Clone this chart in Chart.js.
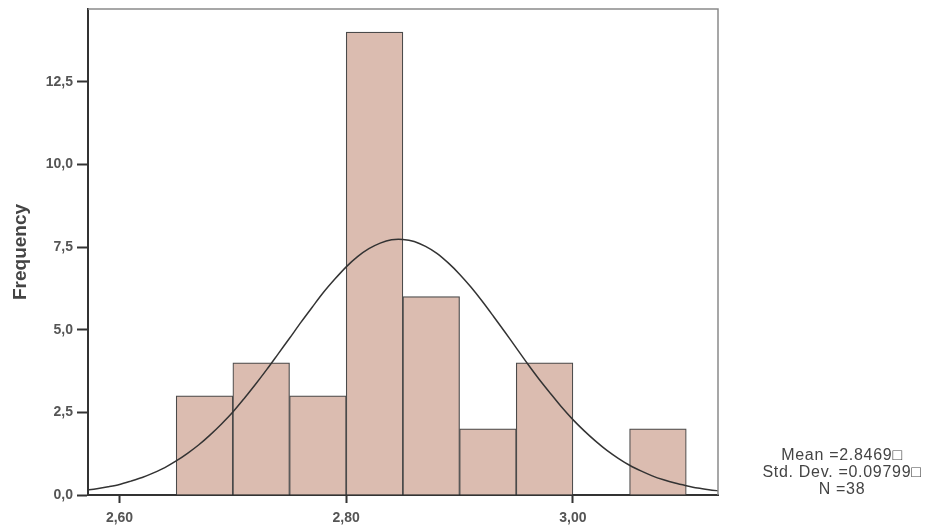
<!DOCTYPE html>
<html>
<head>
<meta charset="utf-8">
<script src="https://cdn.jsdelivr.net/npm/chart.js@4/dist/chart.umd.min.js"></script>
<style>
  html, body { margin: 0; padding: 0; background: #fff; }
  #wrap { position: relative; width: 941px; height: 530px; }
  #stats {
    position: absolute; left: 742px; top: 446px; width: 200px;
    text-align: center; font-family: "Liberation Sans", Arial, sans-serif;
    font-size: 16px; line-height: 17px; letter-spacing: 0.7px; color: #444;
  }
</style>
</head>
<body>
<div id="wrap">
  <canvas id="histChart" width="941" height="530"></canvas>
  <div id="stats">Mean =2.8469□<br>Std. Dev. =0.09799□<br>N =38</div>
</div>
<script>
// bins (centre of each 0.05 wide bin) and counts
const binCentres = [2.675, 2.725, 2.775, 2.825, 2.875, 2.925, 2.975, 3.025, 3.075];
const counts = [3, 4, 3, 14, 6, 2, 4, 0, 2];

// normal curve
const curveX = [2.57, 2.58, 2.59, 2.60, 2.61, 2.62, 2.63, 2.64, 2.65, 2.66, 2.67, 2.68, 2.69,
  2.70, 2.71, 2.72, 2.73, 2.74, 2.75, 2.76, 2.77, 2.78, 2.79, 2.80, 2.81, 2.82, 2.83, 2.84,
  2.85, 2.86, 2.87, 2.88, 2.89, 2.90, 2.91, 2.92, 2.93, 2.94, 2.95, 2.96, 2.97, 2.98, 2.99,
  3.00, 3.01, 3.02, 3.03, 3.04, 3.05, 3.06, 3.07, 3.08, 3.09, 3.10, 3.11, 3.12, 3.13];
const curveY = [0.14, 0.19, 0.25, 0.32, 0.42, 0.53, 0.67, 0.83, 1.03, 1.26, 1.52, 1.82, 2.15,
  2.51, 2.92, 3.35, 3.80, 4.27, 4.74, 5.22, 5.68, 6.13, 6.53, 6.90, 7.21, 7.45, 7.62, 7.72,
  7.73, 7.67, 7.52, 7.31, 7.02, 6.68, 6.29, 5.86, 5.40, 4.93, 4.45, 3.97, 3.51, 3.08, 2.66,
  2.28, 1.94, 1.63, 1.35, 1.11, 0.90, 0.73, 0.58, 0.46, 0.36, 0.28, 0.21, 0.16, 0.12];

// tick labels
const xTickValues = [2.60, 2.80, 3.00];
const xTickLabels = ["2,60", "2,80", "3,00"];
const yTickValues = [0, 2.5, 5, 7.5, 10, 12.5];
const yTickLabels = ["0,0", "2,5", "5,0", "7,5", "10,0", "12,5"];

const tickFont = { family: "Liberation Sans, Arial, sans-serif", size: 14, weight: "bold" };

// grey frame on top/right of the plot
const framePlugin = {
  id: "frame",
  afterDraw(chart) {
    const a = chart.chartArea, ctx = chart.ctx;
    ctx.save();
    ctx.strokeStyle = "#8a8a8a";
    ctx.lineWidth = 1.5;
    ctx.beginPath();
    ctx.moveTo(a.left, a.top);
    ctx.lineTo(a.right, a.top);
    ctx.lineTo(a.right, a.bottom);
    ctx.stroke();
    ctx.restore();
  }
};

new Chart(document.getElementById("histChart"), {
  data: {
    datasets: [
      {
        type: "line",
        data: curveX.map((x, i) => ({ x: x, y: curveY[i] })),
        borderColor: "#333",
        borderWidth: 1.5,
        pointRadius: 0,
        tension: 0.3,
        fill: false,
        order: 0
      },
      {
        type: "bar",
        data: binCentres.map((x, i) => ({ x: x, y: counts[i] })),
        backgroundColor: "#dbbcb0",
        borderColor: "#4a4a4a",
        borderWidth: 1.2,
        barPercentage: 1,
        categoryPercentage: 1,
        order: 1
      }
    ]
  },
  options: {
    responsive: false,
    animation: false,
    layout: { padding: { top: 9, right: 223, left: 0, bottom: 0 } },
    plugins: { legend: { display: false }, tooltip: { enabled: false } },
    scales: {
      x: {
        type: "linear",
        offset: false,
        min: 2.5722,
        max: 3.128,
        afterBuildTicks(scale) { scale.ticks = xTickValues.map(v => ({ value: v })); },
        afterFit(scale) { scale.height = 35; scale.paddingLeft = 0; scale.paddingRight = 0; },
        ticks: {
          autoSkip: false,
          maxRotation: 0,
          color: "#555",
          font: tickFont,
          padding: 7,
          callback: (v) => xTickLabels[xTickValues.indexOf(v)]
        },
        grid: { offset: false, drawOnChartArea: false, tickLength: 8, tickWidth: 2, tickColor: "#333" },
        border: { color: "#333", width: 2 }
      },
      y: {
        min: 0,
        max: 14.7,
        afterBuildTicks(scale) { scale.ticks = yTickValues.map(v => ({ value: v })); },
        afterFit(scale) { scale.width = 88; scale.paddingTop = 0; scale.paddingBottom = 0; },
        ticks: {
          color: "#555",
          font: tickFont,
          padding: 4,
          callback: (v) => yTickLabels[yTickValues.indexOf(v)]
        },
        grid: { drawOnChartArea: false, tickLength: 11, tickWidth: 2, tickColor: "#333" },
        border: { color: "#333", width: 2 },
        title: {
          display: true,
          text: "Frequency",
          color: "#444",
          font: { family: "Liberation Sans, Arial, sans-serif", size: 19, weight: "bold" },
          padding: { top: 9, bottom: 0 }
        }
      }
    }
  },
  plugins: [framePlugin]
});
</script>
</body>
</html>
